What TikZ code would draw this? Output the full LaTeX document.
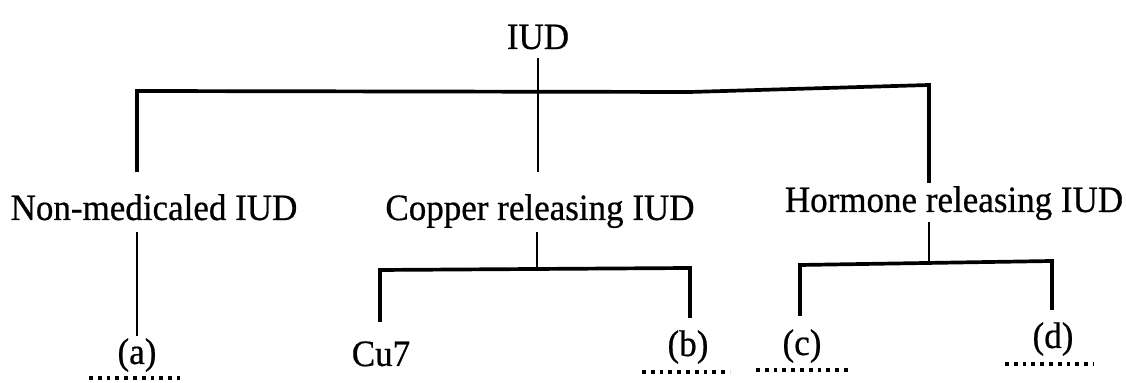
\documentclass[tikz,border=0pt]{standalone}
\usepackage{graphicx}
\usepackage{fontspec}
\setmainfont[FakeBold=0.6]{Liberation Serif}
\newcommand\tallish[1]{\scalebox{1}[1.06]{#1}}
\begin{document}
\begin{tikzpicture}[x=0.5pt,y=-0.5pt,
  lbl/.style={anchor=base,inner sep=0pt,font=\fontsize{17.5}{20}\selectfont},
  conn/.style={line width=1.45pt,line join=miter},
  thinconn/.style={line width=1.15pt},
  barline/.style={line width=1.85pt,line join=miter},
  blank/.style={line width=1.9pt,dash pattern=on 1.9pt off 2.5pt}]
\useasboundingbox (0,0) rectangle (1126,383);
% labels
\node[lbl] (iud) at (538,49) {\tallish{IUD}};
\node[lbl] (non) at (154,220) {\tallish{Non-medicaled IUD}};
\node[lbl] (cop) at (540,220) {\tallish{Copper releasing IUD}};
\node[lbl] (hor) at (954,212) {\tallish{Hormone releasing IUD}};
\node[lbl] (a) at (137,364) {\tallish{(a)}};
\node[lbl] (cu) at (381,366) {\tallish{Cu7}};
\node[lbl] (b) at (688,356) {\tallish{(b)}};
\node[lbl] (c) at (802,355) {\tallish{(c)}};
\node[lbl] (d) at (1053,348) {\tallish{(d)}};
% junction coordinates
\coordinate (iudtop) at (538,58);
\coordinate (tl) at (137,91);
\coordinate (tk) at (690,92);
\coordinate (tr) at (929,85);
\coordinate (nonin) at (137,172);
\coordinate (copin) at (538,172);
\coordinate (horin) at (929,183);
\coordinate (nonout) at (137,232);
\coordinate (ain) at (137,336);
\coordinate (copout) at (537,232);
\coordinate (cbl) at (380,270);
\coordinate (cbm) at (537,270);
\coordinate (cbr) at (690,268);
\coordinate (cuin) at (380,322);
\coordinate (bin) at (690,318);
\coordinate (horout) at (929,222);
\coordinate (hbl) at (800,265);
\coordinate (hbm) at (929,263);
\coordinate (hbr) at (1052,261);
\coordinate (cin) at (800,316);
\coordinate (din) at (1052,310);
% connectors
\draw[thinconn] (iudtop) -- (copin);
\draw[barline] (nonin) -- (tl) -- (tk) -- (tr) -- (horin);
\draw[conn] (nonout) -- (ain);
\draw[conn] (copout) -- (cbm);
\draw[barline] (cuin) -- (cbl) -- (cbr) -- (bin);
\draw[conn] (horout) -- (hbm);
\draw[barline] (cin) -- (hbl) -- (hbr) -- (din);
% answer blanks
\draw[blank] (89,378) -- (180,378);
\draw[blank] (642,372) -- (730,372);
\draw[blank] (756,370) -- (850,370);
\draw[blank] (1005,364) -- (1094,364);
\end{tikzpicture}
\end{document}
